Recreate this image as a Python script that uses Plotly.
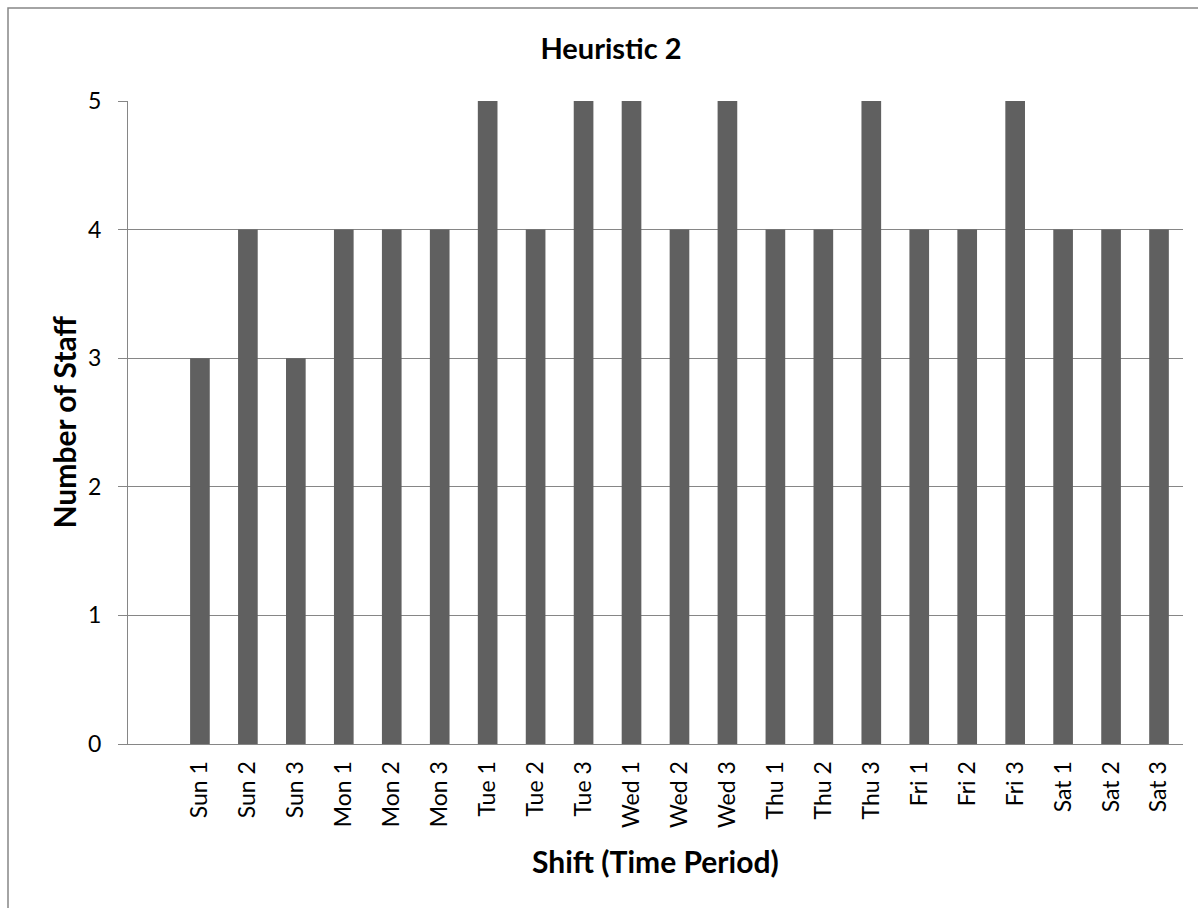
import plotly.graph_objects as go

categories = ["Sun 1", "Sun 2", "Sun 3", "Mon 1", "Mon 2", "Mon 3",
              "Tue 1", "Tue 2", "Tue 3", "Wed 1", "Wed 2", "Wed 3",
              "Thu 1", "Thu 2", "Thu 3", "Fri 1", "Fri 2", "Fri 3",
              "Sat 1", "Sat 2", "Sat 3"]
staff = [3, 4, 3, 4, 4, 4, 5, 4, 5, 5, 4, 5, 4, 4, 5, 4, 4, 5, 4, 4, 4]
y_ticks = [0, 1, 2, 3, 4, 5]

FONT = "Lato"
GRAY = "#868686"
W, H = 1198, 908
L, R, T, B = 128, 15, 101, 164
PW, PH = W - L - R, H - T - B

fig = go.Figure()
fig.add_trace(go.Bar(x=categories, y=staff, marker=dict(color="#606060", line=dict(width=0)),
                     hoverinfo="x+y"))

fig.update_layout(
    width=W, height=H,
    margin=dict(l=L, r=R, t=T, b=B),
    paper_bgcolor="white", plot_bgcolor="white",
    bargap=0.59,
    showlegend=False,
    font=dict(family=FONT, color="black"),
    title=dict(text="<b>Heuristic 2</b>", font=dict(family=FONT, size=29, color="black"),
               xref="container", yref="container", x=611 / W, xanchor="center",
               y=1 - 49 / H, yanchor="middle"),
    xaxis=dict(
        categoryorder="array", categoryarray=[" "] + categories,
        range=[-0.5, len(categories) + 0.5],
        tickangle=-90, tickfont=dict(family=FONT, size=23, color="black"),
        showgrid=False, showline=True, linecolor=GRAY, linewidth=1,
        ticks="", ticklabelstandoff=7, zeroline=False,
    ),
    yaxis=dict(
        range=[0, 5], tickvals=y_ticks, tickfont=dict(family=FONT, size=23, color="black"),
        showgrid=True, gridcolor=GRAY, gridwidth=1,
        showline=True, linecolor=GRAY, linewidth=1,
        ticks="outside", ticklen=9, tickcolor=GRAY, ticklabelstandoff=12,
        zeroline=False,
    ),
    annotations=[
        dict(text="<b>Number of Staff</b>", xref="paper", yref="paper",
             x=(63 - L) / PW, y=0.5, textangle=-90, showarrow=False,
             xanchor="center", yanchor="middle", font=dict(family=FONT, size=30, color="black")),
        dict(text="<b>Shift (Time Period)</b>", xref="paper", yref="paper",
             x=0.5, y=-(861 - (T + PH)) / PH, showarrow=False,
             xanchor="center", yanchor="middle", font=dict(family=FONT, size=30, color="black")),
    ],
    shapes=[
        dict(type="rect", xref="paper", yref="paper",
             x0=(8 - L) / PW, x1=1.2, y0=-0.4, y1=1 + (T - 8) / PH,
             line=dict(color=GRAY, width=1.5), fillcolor="rgba(0,0,0,0)", layer="below"),
    ],
)

fig.write_html("out.html")
